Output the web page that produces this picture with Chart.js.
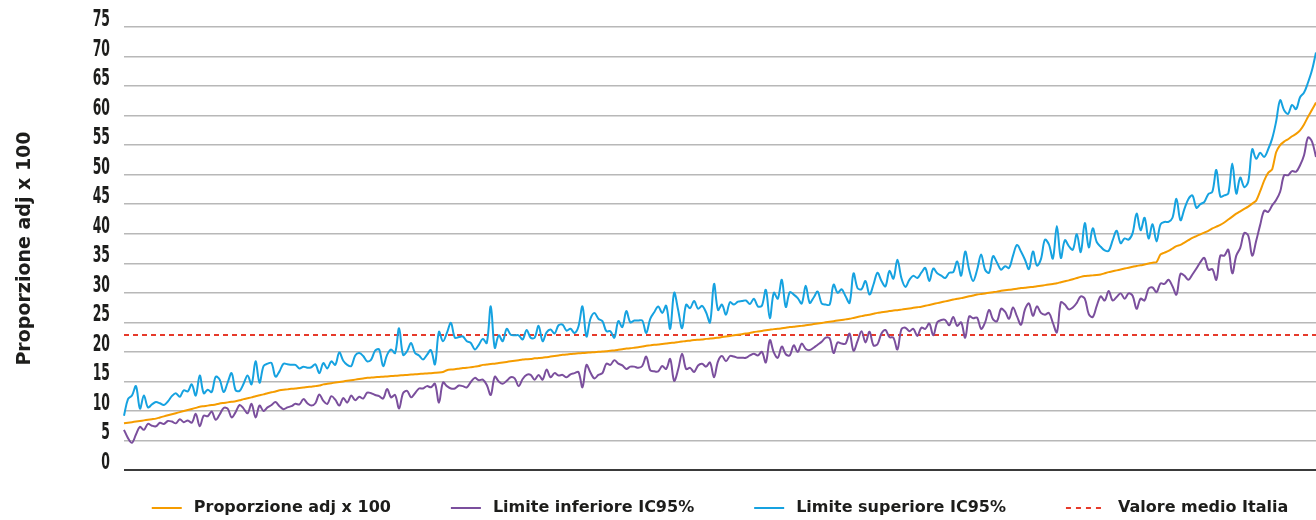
<!DOCTYPE html>
<html lang="it">
<head>
<meta charset="utf-8">
<title>Proporzione adj x 100</title>
<script src="https://cdn.jsdelivr.net/npm/chart.js@4.4.1/dist/chart.umd.min.js"></script>
<style>
  html, body { margin: 0; padding: 0; background: #ffffff; }
  #wrap { width: 1316px; height: 520px; position: relative; }
  canvas { display: block; }
</style>
</head>
<body>
<div id="wrap"><canvas id="chart" width="1316" height="520"></canvas></div>
<script>
// ---- Data ----
const proporzione = [
  7.9, 8.0, 8.1, 8.2, 8.3, 8.4, 8.5, 8.6, 8.7, 8.9,
  9.08, 9.26, 9.44, 9.62, 9.8, 9.98, 10.16, 10.34, 10.52, 10.7,
  10.8, 10.9, 11.0, 11.1, 11.25, 11.35, 11.45, 11.55, 11.65, 11.8,
  12.0, 12.15, 12.3, 12.5, 12.65, 12.8, 13.0, 13.15, 13.3, 13.5,
  13.6, 13.65, 13.75, 13.8, 13.9, 13.95, 14.05, 14.1, 14.2, 14.3,
  14.5, 14.6, 14.7, 14.8, 14.9, 15.0, 15.1, 15.2, 15.3, 15.4,
  15.5, 15.6, 15.65, 15.7, 15.75, 15.8, 15.85, 15.9, 15.95, 16.0,
  16.05, 16.1, 16.15, 16.2, 16.25, 16.3, 16.35, 16.4, 16.45, 16.5,
  16.6, 16.9, 17.0, 17.05, 17.15, 17.25, 17.3, 17.4, 17.5, 17.6,
  17.8, 17.85, 17.95, 18.0, 18.1, 18.2, 18.3, 18.4, 18.5, 18.6,
  18.7, 18.75, 18.8, 18.9, 18.95, 19.0, 19.1, 19.2, 19.3, 19.4,
  19.5, 19.55, 19.65, 19.7, 19.75, 19.8, 19.85, 19.9, 19.95, 20.0,
  20.05, 20.1, 20.2, 20.25, 20.35, 20.45, 20.55, 20.6, 20.7, 20.8,
  20.9, 21.05, 21.1, 21.2, 21.25, 21.35, 21.4, 21.5, 21.55, 21.65,
  21.75, 21.85, 21.9, 22.0, 22.05, 22.1, 22.2, 22.25, 22.3, 22.4,
  22.5, 22.6, 22.7, 22.8, 22.9, 23.0, 23.1, 23.2, 23.35, 23.45,
  23.55, 23.65, 23.75, 23.85, 23.9, 24.0, 24.1, 24.2, 24.25, 24.35,
  24.4, 24.5, 24.6, 24.7, 24.8, 24.9, 25.0, 25.1, 25.2, 25.3,
  25.4, 25.5, 25.6, 25.75, 25.9, 26.05, 26.2, 26.3, 26.45, 26.6,
  26.7, 26.8, 26.9, 27.0, 27.05, 27.15, 27.25, 27.35, 27.45, 27.55,
  27.65, 27.8, 27.95, 28.1, 28.25, 28.4, 28.55, 28.7, 28.85, 29.0,
  29.1, 29.25, 29.4, 29.55, 29.7, 29.8, 29.9, 30.0, 30.1, 30.2,
  30.35, 30.45, 30.5, 30.6, 30.7, 30.8, 30.85, 30.95, 31.0, 31.1,
  31.2, 31.3, 31.4, 31.5, 31.6, 31.8, 31.95, 32.1, 32.3, 32.5,
  32.7, 32.85, 32.9, 32.95, 33.0, 33.1, 33.3, 33.5, 33.65, 33.8,
  33.95, 34.1, 34.25, 34.4, 34.55, 34.65, 34.8, 34.95, 35.1, 35.2,
  36.5, 36.8, 37.1, 37.5, 37.9, 38.1, 38.5, 38.9, 39.3, 39.6,
  39.9, 40.2, 40.5, 40.9, 41.2, 41.5, 41.9, 42.4, 42.9, 43.4,
  43.8, 44.2, 44.6, 45.1, 45.6, 47.2, 49.0, 50.3, 50.9, 53.8,
  55.0, 55.6, 56.0, 56.5, 56.9, 57.5, 58.5, 59.8, 61.0, 62.2
];

const limiteInferiore = [
  6.8, 5.4, 4.6, 6.0, 7.3, 6.8, 7.8, 7.5, 7.4, 8.0,
  7.8, 8.3, 8.2, 7.9, 8.6, 8.1, 8.4, 8.0, 9.5, 7.4,
  9.2, 9.1, 9.9, 8.5, 9.4, 10.5, 10.4, 8.9, 9.8, 11.0,
  10.4, 9.6, 11.2, 8.9, 10.9, 10.0, 10.6, 11.0, 11.5, 10.8,
  10.3, 10.6, 10.8, 11.2, 11.1, 12.0, 11.3, 10.9, 11.3, 12.8,
  11.7, 11.2, 12.5, 11.9, 10.9, 12.2, 11.4, 12.6, 11.8, 12.4,
  12.1, 13.1, 13.0, 12.7, 12.5, 12.1, 13.7, 12.3, 12.7, 10.4,
  13.0, 13.4, 12.3, 13.0, 13.8, 13.8, 14.2, 14.0, 14.6, 11.4,
  14.8, 14.2, 13.8, 13.8, 14.3, 14.2, 14.0, 14.9, 15.6, 15.2,
  15.3, 14.4, 12.7, 15.8, 15.0, 14.6, 15.1, 15.7, 15.5, 14.2,
  15.4, 16.1, 16.1, 15.3, 16.1, 15.3, 17.0, 15.7, 16.4, 16.0,
  16.1, 15.7, 16.2, 16.4, 16.6, 14.0, 17.8, 16.5, 15.5, 16.1,
  16.4, 18.0, 17.8, 18.6, 18.0, 17.7, 17.1, 17.5, 17.5, 17.3,
  17.6, 19.2, 16.9, 16.7, 16.7, 17.6, 17.1, 18.8, 15.1, 17.0,
  19.7, 17.1, 17.3, 16.6, 17.7, 18.0, 17.5, 18.2, 15.7, 18.4,
  19.3, 18.4, 19.3, 19.2, 19.0, 19.0, 19.0, 19.4, 19.7, 19.4,
  20.0, 18.2, 22.0, 19.9, 19.0, 20.9, 19.6, 19.4, 21.1, 20.0,
  21.4, 20.5, 20.3, 20.7, 21.2, 21.7, 22.4, 22.3, 19.8, 21.6,
  21.4, 21.4, 23.1, 20.2, 21.8, 23.5, 21.6, 23.4, 21.1, 21.3,
  23.1, 23.7, 22.5, 22.4, 20.4, 23.8, 24.1, 23.5, 23.9, 22.7,
  24.1, 23.9, 24.8, 22.8, 25.0, 25.4, 25.4, 24.5, 25.9, 24.4,
  25.0, 22.4, 26.0, 25.7, 25.8, 23.9, 25.0, 27.1, 25.5, 25.2,
  27.3, 26.8, 25.6, 27.5, 26.0, 24.6, 27.2, 28.2, 26.1, 27.7,
  26.6, 26.3, 26.6, 24.9, 23.3, 28.4, 28.0, 27.2, 27.5, 28.3,
  29.4, 29.0, 26.4, 25.9, 27.8, 29.4, 28.7, 30.3, 28.7, 29.3,
  29.9, 29.0, 29.9, 29.5, 27.3, 29.0, 28.7, 30.7, 30.9, 30.1,
  31.6, 31.5, 32.2, 31.1, 29.7, 33.2, 32.9, 32.2, 33.1, 34.1,
  35.2, 35.9, 33.9, 34.0, 32.2, 36.3, 36.3, 37.3, 33.3, 36.3,
  37.6, 40.1, 39.7, 36.3, 38.8, 41.5, 43.9, 43.7, 44.8, 45.7,
  47.1, 49.9, 49.9, 50.6, 50.5, 51.6, 53.3, 56.3, 55.6, 53.0
];

const limiteSuperiore = [
  9.2, 12.0, 12.6, 14.2, 10.4, 12.6, 10.6, 11.1, 11.5, 11.3,
  11.0, 11.6, 12.5, 13.0, 12.4, 13.5, 13.3, 14.5, 12.6, 16.0,
  13.0, 13.6, 13.2, 15.8, 15.3, 13.2, 14.8, 16.4, 13.5, 13.4,
  14.6, 16.0, 14.5, 18.4, 14.8, 17.6, 18.0, 18.1, 15.8, 16.7,
  18.0, 17.9, 17.8, 17.8, 17.2, 17.5, 17.3, 17.4, 17.9, 16.4,
  18.1, 17.2, 18.4, 17.8, 19.9, 18.5, 17.8, 17.6, 19.4, 19.8,
  19.3, 18.4, 18.7, 20.2, 20.4, 17.6, 19.5, 20.4, 19.8, 24.0,
  19.5, 20.1, 21.5, 19.8, 19.4, 18.7, 19.5, 20.3, 17.9, 23.4,
  21.8, 23.2, 24.9, 22.4, 22.5, 22.6, 21.8, 21.5, 20.4, 21.2,
  22.2, 21.5, 27.7, 20.7, 22.8, 21.8, 23.9, 22.9, 22.8, 22.8,
  22.1, 23.7, 22.4, 22.4, 24.4, 21.8, 23.3, 23.8, 23.1, 24.5,
  24.6, 23.6, 23.9, 23.2, 24.3, 27.7, 22.6, 25.6, 26.6, 25.6,
  25.2, 23.5, 23.5, 22.4, 25.2, 24.2, 26.9, 25.0, 25.3, 25.3,
  25.3, 23.2, 25.6, 26.7, 27.7, 26.6, 27.8, 23.9, 30.0, 27.1,
  24.0, 28.0, 27.4, 28.6, 27.3, 27.8, 26.7, 25.0, 31.5, 27.1,
  28.0, 26.3, 28.4, 28.0, 28.5, 28.6, 28.7, 28.1, 29.0, 27.7,
  27.8, 30.5, 25.7, 30.0, 29.0, 32.2, 27.6, 30.1, 29.7, 29.1,
  28.2, 31.2, 28.3, 29.2, 30.2, 28.2, 28.0, 28.0, 31.4, 30.0,
  30.6, 29.4, 28.3, 33.3, 30.8, 30.6, 32.0, 29.7, 31.4, 33.4,
  32.0, 31.1, 33.7, 32.4, 35.6, 32.5, 31.0, 32.2, 32.9, 32.5,
  33.4, 34.2, 32.0, 34.1, 33.3, 32.9, 32.5, 33.4, 33.5, 35.3,
  32.9, 37.0, 33.9, 32.0, 33.9, 36.5, 33.9, 33.4, 36.2, 35.1,
  33.9, 34.5, 34.2, 36.3, 38.1, 37.0, 35.6, 34.0, 37.0, 34.6,
  35.7, 39.0, 38.2, 35.8, 41.3, 35.9, 38.9, 37.9, 37.3, 39.9,
  36.9, 41.8, 37.7, 40.9, 38.6, 37.8, 37.2, 37.1, 38.9, 40.5,
  38.4, 39.2, 39.0, 40.1, 43.4, 40.6, 42.7, 39.2, 41.6, 38.7,
  41.6, 42.0, 42.0, 42.7, 45.9, 42.3, 44.2, 45.9, 46.5, 44.4,
  45.0, 45.4, 46.7, 47.1, 50.8, 46.3, 46.5, 46.8, 51.9, 46.8,
  49.5, 47.9, 48.8, 54.3, 52.7, 53.7, 53.0, 54.3, 56.1, 59.0,
  62.6, 60.9, 60.3, 61.8, 61.1, 63.1, 63.9, 65.6, 67.7, 70.7
];

const valoreMedioItalia = 22.85;
const yTickLabels = [0, 5, 10, 15, 20, 25, 30, 35, 40, 45, 50, 55, 60, 65, 70, 75];
const seriesNames = ['Proporzione adj x 100', 'Limite inferiore IC95%', 'Limite superiore IC95%', 'Valore medio Italia'];
const categorie = proporzione.map((_, i) => String(i + 1));

// ---- Styles ----
const COL_ORANGE = '#f59c00';
const COL_PURPLE = '#7b4f9d';
const COL_BLUE = '#16a2e0';
const COL_RED = '#e63a2b';
const TEXT = '#1d1d1b';
const LEGEND_FONT = "bold 16px 'DejaVu Sans', sans-serif";

// Condensed y tick labels (drawn at the y scale's own tick positions)
const yLabelPlugin = {
  id: 'condensedYLabels',
  afterDraw(chart) {
    const s = chart.scales.y;
    const ctx = chart.ctx;
    const xRight = chart.chartArea.left - 14;
    ctx.save();
    ctx.font = "bold 23px 'DejaVu Sans', sans-serif";
    ctx.fillStyle = TEXT;
    ctx.textAlign = 'right';
    ctx.textBaseline = 'middle';
    s.ticks.forEach(t => {
      const y = s.getPixelForValue(t.value) - 7;
      ctx.save();
      ctx.translate(xRight, y);
      ctx.scale(0.54, 1);
      ctx.fillText(String(t.value), 0, 0);
      ctx.restore();
    });
    ctx.restore();
  }
};

const legendPlugin = {
  id: 'customLegend',
  afterDraw(chart) {
    const ctx = chart.ctx;
    const area = chart.chartArea;
    const items = chart.data.datasets.map(ds => ({
      text: ds.label,
      color: ds.borderColor,
      dash: ds.borderDash || [],
      len: ds.borderDash ? 40 : 30
    }));
    ctx.save();
    ctx.font = LEGEND_FONT;
    const gapText = 12, gapItems = 60;
    const widths = items.map(it => it.len + gapText + ctx.measureText(it.text).width);
    const total = widths.reduce((a, b) => a + b, 0) + gapItems * (items.length - 1);
    let x = (area.left + area.right) / 2 - total / 2;
    const y = area.bottom + 38;
    items.forEach((it, i) => {
      ctx.beginPath();
      ctx.strokeStyle = it.color;
      ctx.lineWidth = 2;
      ctx.setLineDash(it.dash.length ? [5, 5] : []);
      ctx.moveTo(x, y);
      ctx.lineTo(x + it.len, y);
      ctx.stroke();
      ctx.setLineDash([]);
      ctx.fillStyle = TEXT;
      ctx.textBaseline = 'middle';
      ctx.textAlign = 'left';
      ctx.fillText(it.text, x + it.len + gapText, y);
      x += widths[i] + gapItems;
    });
    ctx.restore();
  }
};

const chart = new Chart(document.getElementById('chart'), {
  type: 'line',
  data: {
    labels: categorie,
    datasets: [
      { label: seriesNames[0], data: proporzione, borderColor: COL_ORANGE, backgroundColor: COL_ORANGE,
        borderWidth: 2, pointRadius: 0, tension: 0.2, fill: false },
      { label: seriesNames[1], data: limiteInferiore, borderColor: COL_PURPLE, backgroundColor: COL_PURPLE,
        borderWidth: 2, pointRadius: 0, tension: 0.35, fill: false },
      { label: seriesNames[2], data: limiteSuperiore, borderColor: COL_BLUE, backgroundColor: COL_BLUE,
        borderWidth: 2, pointRadius: 0, tension: 0.35, fill: false },
      { label: seriesNames[3], data: categorie.map(() => valoreMedioItalia), borderColor: COL_RED, backgroundColor: COL_RED,
        borderWidth: 2, borderDash: [5, 4], pointRadius: 0, tension: 0, fill: false }
    ]
  },
  options: {
    responsive: false,
    animation: false,
    layout: { padding: { top: 27, right: 0, bottom: 0, left: 0 } },
    plugins: { legend: { display: false }, tooltip: { enabled: false } },
    scales: {
      x: {
        type: 'category',
        offset: false,
        grid: { display: false },
        border: { display: false },
        ticks: { display: false },
        afterFit: (s) => { s.height = 50; }
      },
      y: {
        min: 0,
        max: 75,
        afterBuildTicks: (s) => { s.ticks = yTickLabels.map(v => ({ value: v })); },
        afterFit: (s) => { s.width = 124; },
        grid: {
          drawTicks: false,
          color: (c) => (c.tick && c.tick.value === 0) ? '#3a3a3a' : '#b8b8b8',
          lineWidth: (c) => (c.tick && c.tick.value === 0) ? 2 : 1.5
        },
        border: { display: false },
        ticks: { display: false },
        title: {
          display: true,
          text: seriesNames[0],
          color: TEXT,
          font: { family: "'DejaVu Sans', sans-serif", weight: 'bold', size: 19 },
          padding: { top: 14, bottom: 0 }
        }
      }
    }
  },
  plugins: [yLabelPlugin, legendPlugin]
});
</script>
</body>
</html>
